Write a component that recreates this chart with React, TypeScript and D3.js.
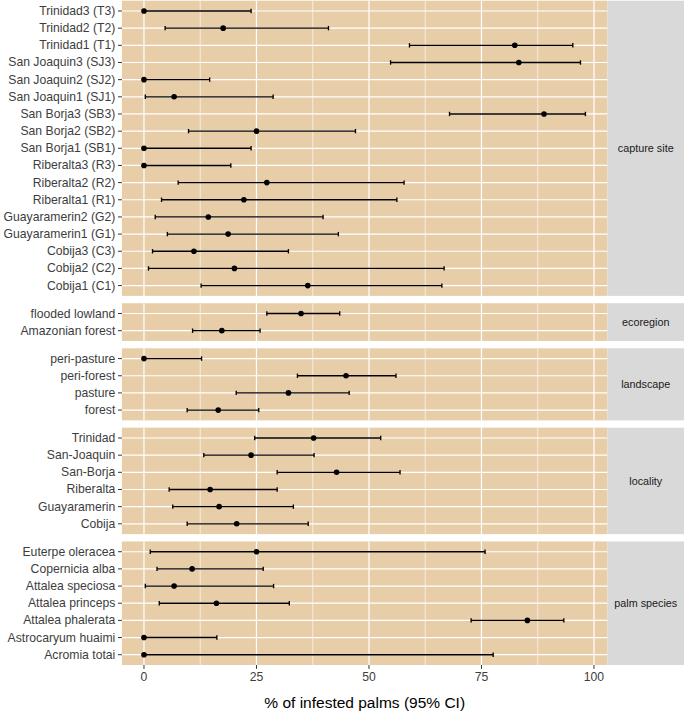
import React from "react";
import * as d3 from "d3";

// ---------- data (top-to-bottom display order within each facet) ----------
const captureSites = [
  "Trinidad3 (T3)", "Trinidad2 (T2)", "Trinidad1 (T1)", "San Joaquin3 (SJ3)",
  "San Joaquin2 (SJ2)", "San Joaquin1 (SJ1)", "San Borja3 (SB3)", "San Borja2 (SB2)",
  "San Borja1 (SB1)", "Riberalta3 (R3)", "Riberalta2 (R2)", "Riberalta1 (R1)",
  "Guayaramerin2 (G2)", "Guayaramerin1 (G1)", "Cobija3 (C3)", "Cobija2 (C2)", "Cobija1 (C1)",
];
const captureEst = [0, 17.6, 82.4, 83.3, 0, 6.7, 88.9, 25.0, 0, 0, 27.3, 22.2, 14.3, 18.7, 11.1, 20.1, 36.4];
const captureLow = [0, 4.7, 59.0, 54.8, 0, 0.3, 67.9, 9.9, 0, 0, 7.6, 3.9, 2.5, 5.2, 1.9, 1.0, 12.7];
const captureHigh = [23.8, 41.0, 95.3, 97.0, 14.6, 28.7, 98.1, 47.0, 23.8, 19.3, 57.8, 56.2, 39.8, 43.2, 32.1, 66.7, 66.2];

const ecoregions = ["flooded lowland", "Amazonian forest"];
const ecoEst = [34.9, 17.3];
const ecoLow = [27.3, 10.8];
const ecoHigh = [43.5, 25.8];

const landscapes = ["peri-pasture", "peri-forest", "pasture", "forest"];
const landEst = [0, 44.9, 32.1, 16.5];
const landLow = [0, 34.1, 20.5, 9.6];
const landHigh = [12.8, 56.0, 45.6, 25.5];

const localities = ["Trinidad", "San-Joaquin", "San-Borja", "Riberalta", "Guayaramerin", "Cobija"];
const locEst = [37.7, 23.8, 42.8, 14.7, 16.7, 20.6];
const locLow = [24.6, 13.3, 29.6, 5.6, 6.4, 9.6];
const locHigh = [52.6, 37.8, 56.9, 29.6, 33.2, 36.5];

const palmSpecies = [
  "Euterpe oleracea", "Copernicia alba", "Attalea speciosa", "Attalea princeps",
  "Attalea phalerata", "Astrocaryum huaimi", "Acromia totai",
];
const palmEst = [25.0, 10.7, 6.7, 16.1, 85.2, 0, 0];
const palmLow = [1.4, 2.9, 0.3, 3.4, 72.7, 0, 0];
const palmHigh = [75.8, 26.5, 28.8, 32.3, 93.3, 16.2, 77.6];

const facetNames = ["capture site", "ecoregion", "landscape", "locality", "palm species"];
const xTicks = [0, 25, 50, 75, 100];
const xMinor = [12.5, 37.5, 62.5, 87.5];
const xTitle = "% of infested palms (95% CI)";

type Row = { label: string; est: number; low: number; high: number };
const mk = (c: string[], e: number[], l: number[], h: number[]): Row[] =>
  c.map((label, i) => ({ label, est: e[i], low: l[i], high: h[i] }));

const facets = [
  { name: facetNames[0], rows: mk(captureSites, captureEst, captureLow, captureHigh) },
  { name: facetNames[1], rows: mk(ecoregions, ecoEst, ecoLow, ecoHigh) },
  { name: facetNames[2], rows: mk(landscapes, landEst, landLow, landHigh) },
  { name: facetNames[3], rows: mk(localities, locEst, locLow, locHigh) },
  { name: facetNames[4], rows: mk(palmSpecies, palmEst, palmLow, palmHigh) },
];

// ---------- layout ----------
const W = 685;
const H = 715;
const panelLeft = 121.9;
const panelRight = 607.5;
const stripRight = 684;
const top = 0.7;
const bottom = 665;
const gap = 7.33;
const pad = 0.6;

const PANEL_BG = "#E8CEA8";
const STRIP_BG = "#D9D9D9";
const FONT = "'Liberation Sans', Arial, Helvetica, sans-serif";

export default function App() {
  const allVals = facets.flatMap((f) => f.rows.flatMap((r) => [r.low, r.high, r.est]));
  const [mn, mx] = d3.extent(allVals) as [number, number];
  const ex = (mx - mn) * 0.05;
  const x = d3.scaleLinear().domain([mn - ex, mx + ex]).range([panelLeft, panelRight]);

  const totalUnits = d3.sum(facets, (f) => f.rows.length - 1 + 2 * pad);
  const unit = (bottom - top - gap * (facets.length - 1)) / totalUnits;

  let cursor = top;
  const panels = facets.map((f) => {
    const h = (f.rows.length - 1 + 2 * pad) * unit;
    const y0 = cursor;
    cursor += h + gap;
    const y = d3
      .scalePoint<string>()
      .domain(f.rows.map((r) => r.label))
      .range([y0, y0 + h])
      .padding(pad);
    return { ...f, y0, h, y };
  });

  const capH = 2.2;

  return (
    <svg
      width={W}
      height={H}
      style={{ position: "absolute", left: 0, top: 0, background: "#fff" }}
      fontFamily={FONT}
    >
      {panels.map((p) => (
        <g key={p.name}>
          <rect x={panelLeft} y={p.y0} width={panelRight - panelLeft} height={p.h} fill={PANEL_BG} />
          {xMinor.map((t) => (
            <line key={"mi" + t} x1={x(t)} x2={x(t)} y1={p.y0} y2={p.y0 + p.h} stroke="#fff" strokeWidth={0.6} />
          ))}
          {xTicks.map((t) => (
            <line key={"ma" + t} x1={x(t)} x2={x(t)} y1={p.y0} y2={p.y0 + p.h} stroke="#fff" strokeWidth={1.2} />
          ))}
          {p.rows.map((r) => (
            <line key={"hg" + r.label} x1={panelLeft} x2={panelRight} y1={p.y(r.label)} y2={p.y(r.label)} stroke="#fff" strokeWidth={1.2} />
          ))}
          {/* strip */}
          <rect x={panelRight} y={p.y0} width={stripRight - panelRight} height={p.h} fill={STRIP_BG} />
          <text
            x={(panelRight + stripRight) / 2}
            y={p.y0 + p.h / 2}
            textAnchor="middle"
            dominantBaseline="central"
            fontSize={10.8}
            fill="#1A1A1A"
          >
            {p.name}
          </text>
          {/* y axis */}
          {p.rows.map((r) => {
            const yy = p.y(r.label) as number;
            return (
              <g key={"ya" + r.label}>
                <line x1={panelLeft - 3.9} x2={panelLeft} y1={yy} y2={yy} stroke="#333" strokeWidth={1} />
                <text
                  x={panelLeft - 6.6}
                  y={yy}
                  textAnchor="end"
                  dominantBaseline="central"
                  fontSize={12.2}
                  fill="#3D3D3D"
                >
                  {r.label}
                </text>
              </g>
            );
          })}
          {/* error bars and points */}
          {p.rows.map((r) => {
            const yy = p.y(r.label) as number;
            return (
              <g key={"eb" + r.label}>
                <line x1={x(r.low)} x2={x(r.high)} y1={yy} y2={yy} stroke="#000" strokeWidth={1.35} />
                <line x1={x(r.low)} x2={x(r.low)} y1={yy - capH} y2={yy + capH} stroke="#000" strokeWidth={1.35} />
                <line x1={x(r.high)} x2={x(r.high)} y1={yy - capH} y2={yy + capH} stroke="#000" strokeWidth={1.35} />
                <circle cx={x(r.est)} cy={yy} r={2.8} fill="#000" />
              </g>
            );
          })}
        </g>
      ))}
      {/* x axis */}
      {xTicks.map((t) => (
        <g key={"xt" + t}>
          <line x1={x(t)} x2={x(t)} y1={bottom} y2={bottom + 3.9} stroke="#333" strokeWidth={1} />
          <text x={x(t)} y={680.7} textAnchor="middle" fontSize={12.2} fill="#3D3D3D">
            {t}
          </text>
        </g>
      ))}
      <text x={(panelLeft + panelRight) / 2} y={707.7} textAnchor="middle" fontSize={15.5} fill="#000">
        {xTitle}
      </text>
    </svg>
  );
}
